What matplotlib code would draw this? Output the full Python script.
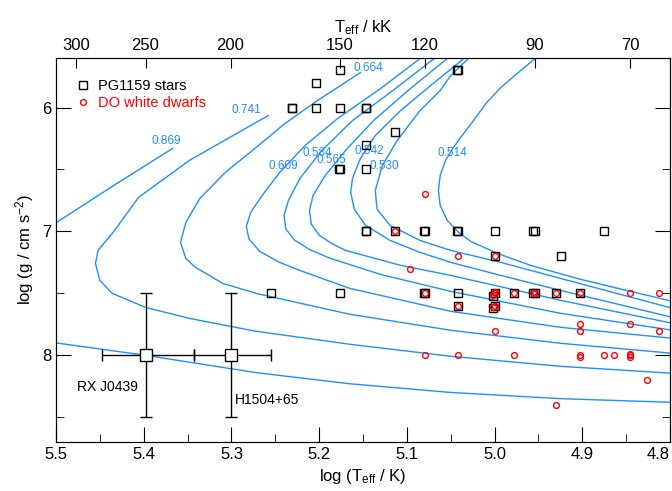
import numpy as np
import matplotlib
matplotlib.use("Agg")
import matplotlib.pyplot as plt
from matplotlib.ticker import MultipleLocator

plt.rcParams["font.family"] = ["Liberation Sans", "DejaVu Sans"]
plt.rcParams["mathtext.fontset"] = "custom"
plt.rcParams["mathtext.rm"] = "Liberation Sans"
plt.rcParams["mathtext.it"] = "Liberation Sans:italic"

# PG1159 stars (Teff in kK, log g) - near duplicates show up as bold squares
pg_teff = [150, 160, 170, 170.4, 160, 150, 140, 140.3, 110, 110.3, 130, 140, 150, 150.3, 140,
           140, 140.3, 130, 120, 120.3, 110, 110.3, 100, 90, 90.3, 75, 84, 100,
           180, 150, 120, 120.3, 110, 100, 100.3, 95, 90, 90.3, 85, 80, 110, 100, 100.3]
pg_logg = [5.7, 5.8, 6.0, 6.0, 6.0, 6.0, 6.0, 6.0, 5.7, 5.7, 6.2, 6.3, 6.5, 6.5, 6.5,
           7.0, 7.0, 7.0, 7.0, 7.0, 7.0, 7.0, 7.0, 7.0, 7.0, 7.0, 7.2, 7.2,
           7.5, 7.5, 7.5, 7.5, 7.5, 7.5, 7.52, 7.5, 7.5, 7.5, 7.5, 7.5, 7.6, 7.6, 7.62]

# DO white dwarfs (Teff in kK, log g)
do_teff = [120, 130, 110, 100, 125, 120, 100, 100, 100.3, 95, 90, 90.3, 85, 80, 70, 65,
           110, 100, 100.3, 100, 80, 80, 70, 65, 120, 110, 95, 80, 80, 75, 73,
           70, 70, 70, 67, 85]
do_logg = [6.7, 7.0, 7.2, 7.2, 7.3, 7.5, 7.5, 7.49, 7.51, 7.5, 7.5, 7.5, 7.5, 7.5, 7.5, 7.5,
           7.6, 7.6, 7.61, 7.8, 7.75, 7.8, 7.75, 7.8, 8.0, 8.0, 8.0, 8.0, 8.01, 8.0, 8.0,
           7.99, 8.0, 8.01, 8.2, 8.4]

# stars with error bars
err_names = ["RX J0439", "H1504+65"]
err_teff = [250, 200]
err_dteff = [30, 20]
err_logg = [8.0, 8.0]
err_dlogg = [0.5, 0.5]

# evolutionary tracks (log Teff, log g), labelled with stellar mass
trk_869_x = [5.367, 5.43, 5.50, np.nan, 5.50, 5.398, 5.272, 5.165, 5.050, 4.925, 4.797]
trk_869_y = [6.33, 6.61, 6.93, np.nan, 7.90, 8.00, 8.14, 8.23, 8.30, 8.35, 8.38]
trk_741_x = [5.258, 5.272, 5.348, 5.406, 5.434, 5.452, 5.455, 5.450, 5.436, 5.398, 5.348,
             5.272, 5.165, 5.050, 4.925, 4.797]
trk_741_y = [6.065, 6.121, 6.427, 6.726, 7.00, 7.153, 7.258, 7.395, 7.50, 7.613, 7.702,
             7.806, 7.911, 8.008, 8.089, 8.145]
trk_664_x = [5.153, 5.202, 5.239, 5.272, 5.307, 5.336, 5.352, 5.358, 5.352, 5.341, 5.310,
             5.272, 5.165, 5.050, 4.925, 4.797]
trk_664_y = [5.718, 5.944, 6.129, 6.323, 6.524, 6.734, 6.927, 7.089, 7.218, 7.290, 7.419,
             7.500, 7.669, 7.798, 7.903, 7.984]
trk_609_x = [5.085, 5.130, 5.179, 5.216, 5.245, 5.265, 5.278, 5.283, 5.280, 5.268, 5.245,
             5.222, 5.165, 5.050, 4.925, 4.797]
trk_609_y = [5.605, 5.847, 6.089, 6.306, 6.524, 6.710, 6.847, 6.960, 7.060, 7.160, 7.250,
             7.315, 7.460, 7.645, 7.774, 7.863]
trk_584_x = [5.069, 5.113, 5.162, 5.197, 5.222, 5.235, 5.240, 5.238, 5.228, 5.210, 5.187,
             5.130, 5.050, 4.925, 4.797]
trk_584_y = [5.605, 5.847, 6.105, 6.347, 6.573, 6.750, 6.871, 6.980, 7.070, 7.150, 7.218,
             7.347, 7.484, 7.661, 7.798]
trk_565_x = [5.054, 5.096, 5.138, 5.170, 5.193, 5.207, 5.211, 5.209, 5.200, 5.185, 5.170,
             5.107, 5.050, 4.925, 4.797]
trk_565_y = [5.605, 5.847, 6.105, 6.347, 6.548, 6.710, 6.831, 6.940, 7.030, 7.100, 7.153,
             7.274, 7.355, 7.556, 7.742]
trk_542_x = [5.035, 5.073, 5.107, 5.136, 5.153, 5.162, 5.164, 5.160, 5.147, 5.119, 5.085,
             5.050, 4.993, 4.925, 4.797]
trk_542_y = [5.605, 5.823, 6.024, 6.226, 6.411, 6.573, 6.685, 6.820, 6.952, 7.073, 7.169,
             7.250, 7.355, 7.476, 7.694]
trk_530_x = [5.030, 5.050, 5.062, 5.085, 5.111, 5.128, 5.136, 5.134, 5.119, 5.085, 5.050,
             4.993, 4.925, 4.797]
trk_530_y = [5.605, 5.742, 5.863, 6.024, 6.266, 6.468, 6.669, 6.820, 6.952, 7.073, 7.153,
             7.250, 7.379, 7.621]
trk_514_x = [4.954, 4.973, 4.993, 5.009, 5.024, 5.037, 5.047, 5.056, 5.062, 5.064, 5.062,
             5.054, 5.041, 5.027, 4.997, 4.959, 4.902, 4.845, 4.797]
trk_514_y = [5.605, 5.718, 5.839, 5.960, 6.105, 6.226, 6.323, 6.427, 6.548, 6.669, 6.790,
             6.911, 7.008, 7.081, 7.177, 7.274, 7.387, 7.484, 7.565]

tracks = [(trk_869_x, trk_869_y), (trk_741_x, trk_741_y), (trk_664_x, trk_664_y),
          (trk_609_x, trk_609_y), (trk_584_x, trk_584_y), (trk_565_x, trk_565_y),
          (trk_542_x, trk_542_y), (trk_530_x, trk_530_y), (trk_514_x, trk_514_y)]

mass_labels = ["0.869", "0.741", "0.664", "0.609", "0.584", "0.565", "0.542", "0.530", "0.514"]
mass_label_x = [5.374, 5.283, 5.144, 5.241, 5.202, 5.186, 5.143, 5.126, 5.048]
mass_label_y = [6.27, 6.02, 5.68, 6.47, 6.37, 6.42, 6.35, 6.47, 6.37]

bottom_ticks = [5.5, 5.4, 5.3, 5.2, 5.1, 5.0, 4.9, 4.8]
top_kk = [300, 250, 200, 150, 120, 90, 70]

blue = "#1e8fff"

fig = plt.figure(figsize=(6.72, 4.91), dpi=100)
ax = fig.add_axes([56 / 672, 1 - 442 / 491, 614 / 672, 384 / 491])

for tx, ty in tracks:
    ax.plot(tx, ty, color=blue, lw=1.0, zorder=1)
for lab, lx, ly in zip(mass_labels, mass_label_x, mass_label_y):
    ax.text(lx, ly, lab, color=blue, fontsize=8.5, ha="center", va="center", zorder=2)

ax.plot(np.log10(np.array(pg_teff) * 1000), pg_logg, "s", ms=6.3, mfc="none", mec="k",
        mew=1.0, zorder=3, label="PG1159 stars")
ax.plot(np.log10(np.array(do_teff) * 1000), do_logg, "o", ms=4.2, mfc="none", mec="red",
        mew=1.0, zorder=4, label="DO white dwarfs")

for name, t, dt, g, dg in zip(err_names, err_teff, err_dteff, err_logg, err_dlogg):
    lt = np.log10(t * 1000)
    xlo = lt - np.log10((t - dt) * 1000)
    xhi = np.log10((t + dt) * 1000) - lt
    ax.errorbar(lt, g, xerr=[[xlo], [xhi]], yerr=dg, fmt="s", ms=9, mfc="white", mec="k",
                mew=1.0, ecolor="k", elinewidth=1.0, capsize=4, capthick=1.0, zorder=5)

ax.text(5.407, 8.26, err_names[0], fontsize=10, ha="right", va="center")
ax.text(5.296, 8.36, err_names[1], fontsize=10, ha="left", va="center")

ax.set_xlim(5.5, 4.8)
ax.set_ylim(8.7, 5.6)
ax.set_xticks(bottom_ticks)
ax.set_xticklabels([f"{v:.1f}" for v in bottom_ticks])
ax.xaxis.set_minor_locator(MultipleLocator(0.05))
ax.yaxis.set_major_locator(MultipleLocator(1))
ax.yaxis.set_minor_locator(MultipleLocator(0.5))
ax.tick_params(which="both", direction="in", top=False, right=True, labelsize=12)
ax.tick_params(which="major", length=11)
ax.tick_params(which="minor", length=6)
ax.set_xlabel(r"log (T$_{\rm eff}$ / K)", fontsize=12)
ax.set_ylabel(r"log (g / cm s$^{-2}$)", fontsize=12)
# keep the last bottom label inside the figure
for tick in ax.xaxis.get_major_ticks():
    if abs(tick.get_loc() - 4.8) < 1e-6:
        tick.label1.set_horizontalalignment("right")

leg = ax.legend(loc="upper left", bbox_to_anchor=(0.0065, 0.982), frameon=False,
                fontsize=10.5, handletextpad=0.4, handlelength=1.2, labelspacing=0.2,
                borderaxespad=0.6, labelcolor=["black", "red"])

ax2 = ax.twiny()
ax2.set_xlim(ax.get_xlim())
ax2.set_xticks(np.log10(np.array(top_kk) * 1000))
ax2.set_xticklabels([str(v) for v in top_kk])
ax2.tick_params(direction="in", length=7, labelsize=12)
ax2.set_xlabel(r"T$_{\rm eff}$ / kK", fontsize=12)

fig.savefig("out.png", dpi=100)
